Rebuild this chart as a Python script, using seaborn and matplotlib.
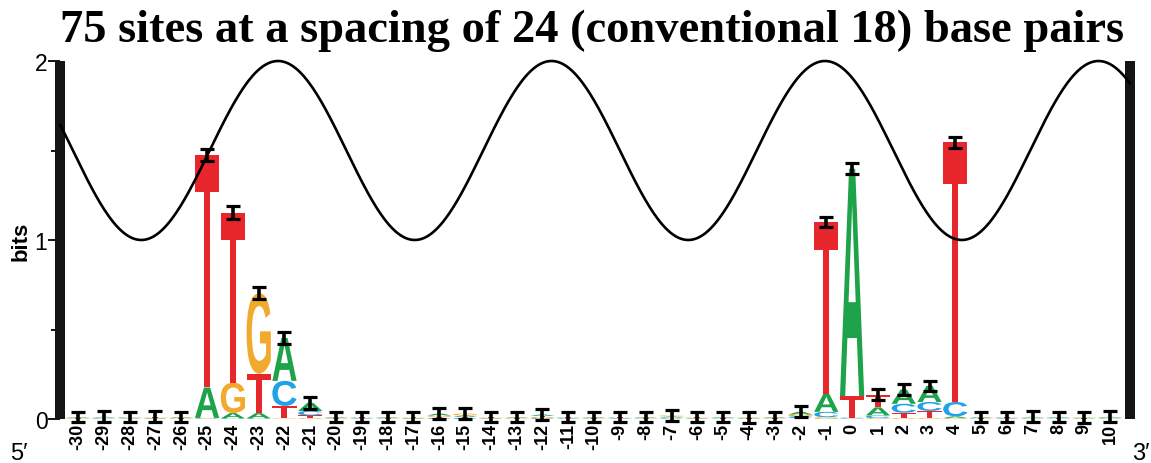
import numpy as np
import matplotlib
matplotlib.use("Agg")
import matplotlib.pyplot as plt
import seaborn as sns
from matplotlib.textpath import TextPath
from matplotlib.font_manager import FontProperties
from matplotlib.patches import PathPatch
from matplotlib.transforms import Affine2D

# ---------------------------------------------------------------- data
positions = list(range(-30, 11))
tick_labels = [str(p) for p in positions]

# information content (bits) contributed by each base at each position
A = [0.004, 0.004, 0.003, 0.003, 0.004,            # -30 .. -26
     0.17, 0.03, 0.03, 0.24, 0.045,                  # -25 .. -21
     0.004, 0.003, 0.004, 0.003, 0.010, 0.008,      # -20 .. -15
     0.003, 0.004, 0.008, 0.003, 0.004, 0.003,      # -14 .. -9
     0.004, 0.006, 0.003, 0.004, 0.003, 0.004,      # -8 .. -3
     0.015, 0.10, 1.27, 0.045, 0.08, 0.09, 0.01,    # -2 .. 4
     0.004, 0.003, 0.004, 0.004, 0.003, 0.004]      # 5 .. 10
C = [0.002, 0.003, 0.003, 0.002, 0.002,
     0.003, 0.003, 0.003, 0.14, 0.025,
     0.002, 0.003, 0.002, 0.002, 0.006, 0.006,
     0.002, 0.002, 0.005, 0.003, 0.002, 0.003,
     0.002, 0.004, 0.002, 0.003, 0.002, 0.002,
     0.010, 0.03, 0.005, 0.015, 0.05, 0.05, 0.08,
     0.002, 0.003, 0.002, 0.003, 0.002, 0.003]
G = [0.003, 0.002, 0.003, 0.003, 0.003,
     0.003, 0.17, 0.45, 0.003, 0.005,
     0.003, 0.002, 0.003, 0.003, 0.008, 0.010,
     0.003, 0.003, 0.006, 0.002, 0.003, 0.002,
     0.003, 0.006, 0.003, 0.002, 0.003, 0.003,
     0.010, 0.01, 0.003, 0.005, 0.005, 0.005, 0.005,
     0.003, 0.002, 0.003, 0.002, 0.003, 0.003]
T = [0.002, 0.003, 0.002, 0.004, 0.002,
     1.30, 0.95, 0.22, 0.07, 0.015,
     0.002, 0.003, 0.002, 0.003, 0.006, 0.006,
     0.003, 0.002, 0.006, 0.003, 0.002, 0.003,
     0.002, 0.004, 0.003, 0.002, 0.002, 0.002,
     0.005, 0.96, 0.12, 0.07, 0.03, 0.04, 1.45,
     0.002, 0.003, 0.003, 0.002, 0.002, 0.002]
# small-sample error of the total height at each position
err = [0.030] * 5 + [0.035] * 5 + [0.030] * 31

# helical phase of the DNA: cosine between 1 and 2 bits
wave_period = 10.6
wave_peak = -22.25
wave_low, wave_high = 1.0, 2.0

colors = {"A": "#1ea34a", "C": "#1fa3e6", "G": "#f2aa2e", "T": "#e8272d"}

# ---------------------------------------------------------------- style
sns.set_theme(style="white")
plt.rcParams["font.family"] = ["Liberation Sans", "DejaVu Sans"]
for key in ("text.color", "axes.labelcolor", "xtick.color", "ytick.color"):
    plt.rcParams[key] = "black"

fig = plt.figure(figsize=(11.51, 4.64), dpi=100)
W, H = 1151, 464
ax = fig.add_axes([60 / W, 44 / H, 1070 / W, 358 / H])
ax.set_xlim(-30.7, 10.77)
ax.set_ylim(0, 2)

# ---------------------------------------------------------------- logo letters
glyph_font = FontProperties(family="Liberation Sans", weight="bold")
glyphs = {b: TextPath((0, 0), b, size=1, prop=glyph_font) for b in "ACGT"}


def draw_letter(base, x, y0, h, width=0.94):
    path = glyphs[base]
    ext = path.get_extents()
    tr = (Affine2D()
          .translate(-ext.x0, -ext.y0)
          .scale(width / ext.width, h / ext.height)
          .translate(x - width / 2, y0))
    ax.add_patch(PathPatch(tr.transform_path(path), facecolor=colors[base],
                           edgecolor="none", lw=0, clip_on=False, zorder=2))


totals = []
for i, p in enumerate(positions):
    stack = sorted([("A", A[i]), ("C", C[i]), ("G", G[i]), ("T", T[i])],
                   key=lambda s: s[1])
    y = 0.0
    for base, h in stack:
        draw_letter(base, p, y, h)
        y += h
    totals.append(y)

ax.errorbar(positions, totals, yerr=err, fmt="none", ecolor="black",
            elinewidth=2.6, capsize=5, capthick=2.3, zorder=4, clip_on=False)

# ---------------------------------------------------------------- helical wave
wx = np.linspace(-30.7, 10.77, 800)
wy = wave_low + (wave_high - wave_low) * (0.5 + 0.5 * np.cos(2 * np.pi * (wx - wave_peak) / wave_period))
sns.lineplot(x=wx, y=wy, ax=ax, color="black", lw=1.9, zorder=3, clip_on=False)

# ---------------------------------------------------------------- axes
for side in ("top", "bottom"):
    ax.spines[side].set_visible(False)
for side in ("left", "right"):
    ax.spines[side].set_visible(True)
    ax.spines[side].set_color("#141414")
    ax.spines[side].set_linewidth(7.2)
    ax.spines[side].set_capstyle("butt")

ax.set_yticks([0, 1, 2])
ax.set_yticklabels(["0", "1", "2"])
ax.set_yticks([0.5, 1.5], minor=True)
ax.tick_params(axis="y", which="major", direction="out", length=8.5, width=1.3,
               color="black", labelsize=16.5, pad=0.5, left=True, right=False)
ax.tick_params(axis="y", which="minor", direction="out", length=6.5, width=1.3,
               color="black", left=True, right=False)

ax.set_xticks(positions)
ax.set_xticklabels(tick_labels, rotation=90, fontweight="bold", fontsize=13,
                   va="top", ha="center")
ax.tick_params(axis="x", which="both", length=0, pad=3)

ax.set_ylabel("bits", fontsize=16, fontweight="bold", labelpad=2)
ax.grid(False)

fig.text(592 / W, 1 - 42 / H, "75 sites at a spacing of 24 (conventional 18) base pairs",
         ha="center", va="baseline", fontsize=33.5, fontweight="bold",
         family=["Liberation Serif", "DejaVu Serif"])
fig.text(19 / W, 1 - 454 / H, "5\u2032", ha="center", va="center", fontsize=17)
fig.text(1141 / W, 1 - 454 / H, "3\u2032", ha="center", va="center", fontsize=17)

fig.savefig("out.png", dpi=100)
